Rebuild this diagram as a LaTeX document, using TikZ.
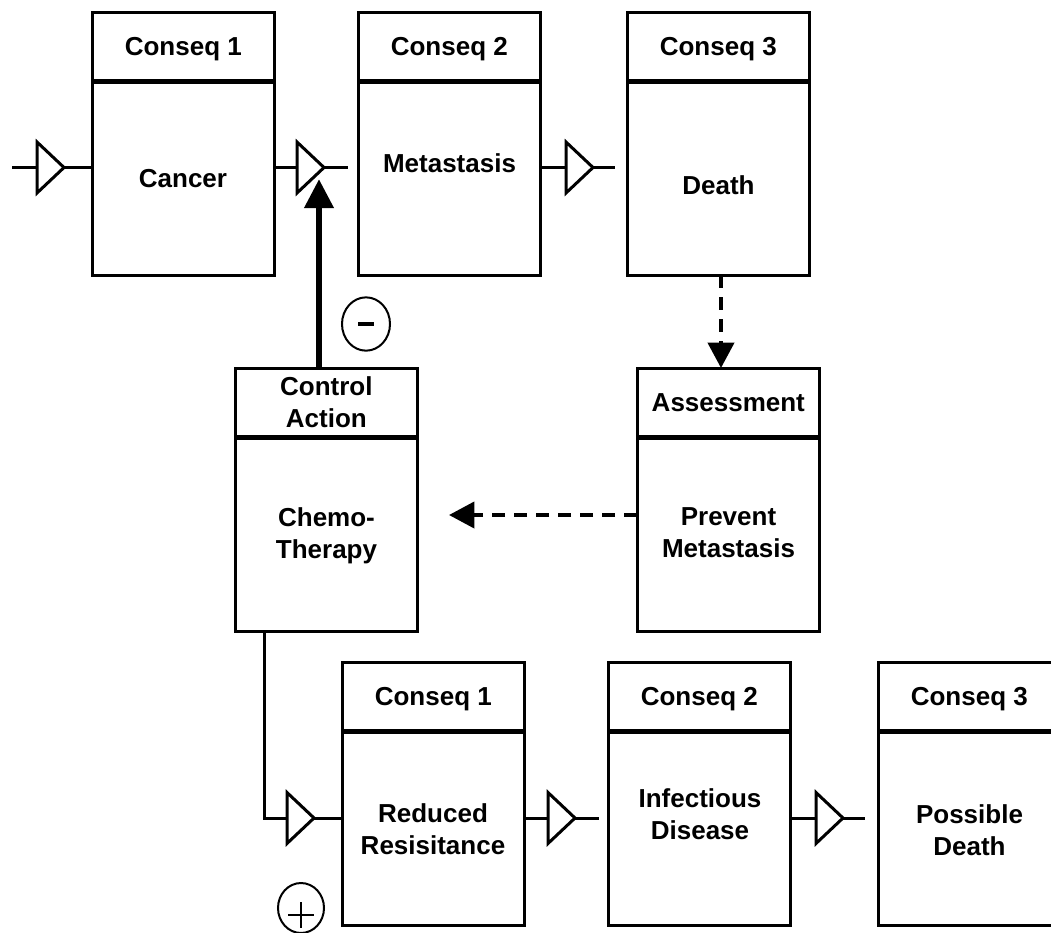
\documentclass[tikz,border=0pt]{standalone}
\usepackage{fontspec}
\setmainfont{Liberation Sans}
\usetikzlibrary{shapes.geometric}
\usetikzlibrary{arrows.meta}

\begin{document}
\begin{tikzpicture}[
	x=0.75pt, y=-0.75pt,
	font=\bfseries\fontsize{19.5pt}{24pt}\selectfont
]
\tikzset{
    headbox/.style = {rectangle, draw=black, line width=2.25pt, align=center, anchor=north west, minimum width=137pt, minimum height=51.75pt, inner sep=0pt, outer sep=0pt, text depth=0pt},
    bodybox/.style = {rectangle, draw=black, line width=2.25pt, anchor=north, minimum width=137pt, minimum height=145.5pt, inner sep=0pt, outer sep=0pt},
    divider/.style = {line width=3.75pt},
    lbl/.style = {align=center, inner sep=0pt},
    gate/.style = {isosceles triangle, isosceles triangle stretches, draw=black, line width=2.25pt, minimum width=38.25pt, minimum height=20.25pt, inner sep=0pt, outer sep=0pt, anchor=west},
    wire/.style = {line width=2.25pt},
    inhibit/.style = {line width=5pt, -{Triangle[width=21pt,length=21.75pt]}},
    feedback/.style = {line width=3pt, dash pattern=on 10pt off 6.5pt, -{Triangle[width=19.5pt,length=19pt]}},
    sign/.style = {ellipse, draw=black, line width=1.5pt, inner sep=0pt}
}
\useasboundingbox (0,0) rectangle (1051,933);
\clip (0,0) rectangle (1051,933);

% first chain
\node[headbox] (c1h) at (92,12) {Conseq 1};
\node[bodybox] (c1b) at (c1h.south) {};
\draw[divider] (c1h.south west) -- (c1h.south east);
\node[headbox] (c2h) at (358,12) {Conseq 2};
\node[bodybox] (c2b) at (c2h.south) {};
\draw[divider] (c2h.south west) -- (c2h.south east);
\node[headbox] (c3h) at (627,12) {Conseq 3};
\node[bodybox] (c3b) at (c3h.south) {};
\draw[divider] (c3h.south west) -- (c3h.south east);
\node[lbl] (c1t) at (183,178.5) {Cancer};
\node[lbl] (c2t) at (449.5,163.5) {Metastasis};
\node[lbl] (c3t) at (718.5,185) {Death};

% control and assessment
\node[headbox] (cah) at (235,368) {Control\\Action};
\node[bodybox] (cab) at (cah.south) {};
\draw[divider] (cah.south west) -- (cah.south east);
\node[headbox] (ash) at (637,368) {Assessment};
\node[bodybox] (asb) at (ash.south) {};
\draw[divider] (ash.south west) -- (ash.south east);
\node[lbl] (cat) at (326.5,536) {Chemo-\\Therapy};
\node[lbl] (ast) at (728.5,533) {Prevent\\Metastasis};

% second chain
\node[headbox] (r1h) at (342,662) {Conseq 1};
\node[bodybox] (r1b) at (r1h.south) {};
\draw[divider] (r1h.south west) -- (r1h.south east);
\node[headbox] (r2h) at (608,662) {Conseq 2};
\node[bodybox] (r2b) at (r2h.south) {};
\draw[divider] (r2h.south west) -- (r2h.south east);
\node[headbox] (r3h) at (878,662) {Conseq 3};
\node[bodybox] (r3b) at (r3h.south) {};
\draw[divider] (r3h.south west) -- (r3h.south east);
\node[lbl] (r1t) at (433,829) {Reduced\\Resisitance};
\node[lbl] (r2t) at (700,814) {Infectious\\Disease};
\node[lbl] (r3t) at (969.5,830) {Possible\\Death};

% gates
\node[gate] (g1) at (37,167.5) {};
\node[gate] (g2) at (297,167.5) {};
\node[gate] (g3) at (566,167.5) {};
\node[gate] (g4) at (287,818) {};
\node[gate] (g5) at (548,818) {};
\node[gate] (g6) at (816,818) {};

\coordinate (in1) at (12,167.5);
\coordinate (out2) at (348,167.5);
\coordinate (out3) at (615,167.5);
\coordinate (tap) at (264,700);
\coordinate (out5) at (599,818);
\coordinate (out6) at (865,818);

\draw[wire] (in1) -- (g1.west);
\draw[wire] (g1.east) -- (g1.east -| c1b.west);
\draw[wire] (g2.west -| c1b.east) -- (g2.west);
\draw[wire] (g2.east) -- (out2);
\draw[wire] (g3.west -| c2b.east) -- (g3.west);
\draw[wire] (g3.east) -- (out3);
\draw[wire] (cab.south -| tap) |- (g4.west);
\draw[wire] (g4.east) -- (g4.east -| r1b.west);
\draw[wire] (g5.west -| r1b.east) -- (g5.west);
\draw[wire] (g5.east) -- (out5);
\draw[wire] (g6.west -| r2b.east) -- (g6.west);
\draw[wire] (g6.east) -- (out6);

% control action on the first chain
\coordinate (hit) at (319,179);
\draw[inhibit] (cah.north -| hit) -- (hit);

% feedback
\coordinate (drop) at (721,300);
\coordinate (cmd) at (449,515);
\draw[feedback] (c3b.south -| drop) -- (ash.north -| drop);
\draw[feedback] (asb.west |- cmd) -- (cmd);

% signs
\node[sign, minimum width=36pt, minimum height=40pt] (neg) at (366,324) {};
\draw[line width=3pt] ([xshift=-6pt]neg.center) -- ([xshift=6pt]neg.center);
\node[sign, minimum width=34.5pt, minimum height=37.5pt] (pos) at (301,908) {};
\draw[line width=1.5pt] ([xshift=-9.75pt,yshift=-5.25pt]pos.center) -- ([xshift=9.75pt,yshift=-5.25pt]pos.center)
    ([yshift=4.5pt]pos.center) -- ([yshift=-15pt]pos.center);
\end{tikzpicture}
\end{document}
